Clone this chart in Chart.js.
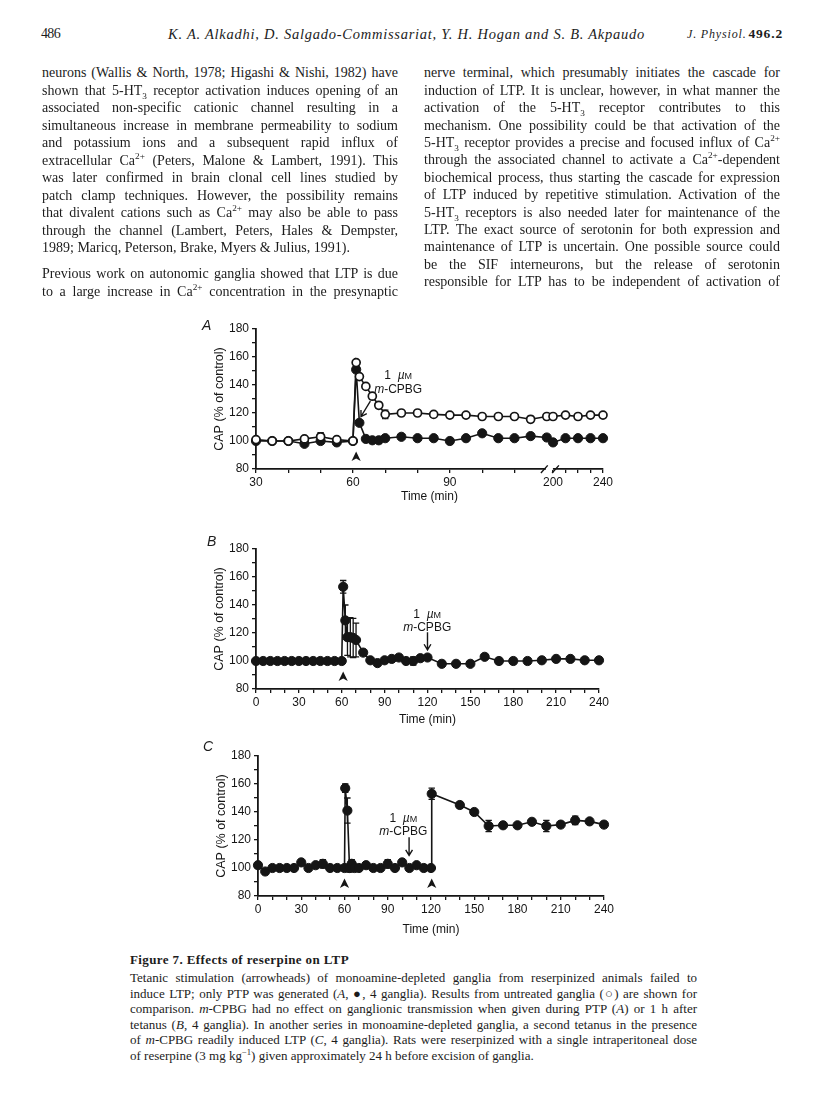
<!DOCTYPE html>
<html>
<head>
<meta charset="utf-8">
<title>Figure 7 - Effects of reserpine on LTP</title>
<script src="https://cdn.jsdelivr.net/npm/chart.js@4.4.1/dist/chart.umd.min.js"></script>
<style>
  html, body { margin: 0; padding: 0; background: #fff; }
  #page { position: relative; width: 816px; height: 1110px; overflow: hidden; color: #1c1c1c;
          font-family: "Liberation Serif", "Times New Roman", serif; }
  .ln { position: absolute; font-size: 14px; line-height: 18px; white-space: nowrap; }
  .cap { font-size: 13px; line-height: 16px; }
  sub, sup { font-size: 0.66em; line-height: 0; }
  canvas.panel { position: absolute; }
  .tag { position: absolute; font: italic 14px "Liberation Sans", Arial, sans-serif; }
</style>
</head>
<body>
<div id="page">
  <canvas id="panelA" class="panel" width="440" height="210" style="left:180px;top:300px"></canvas>
  <canvas id="panelB" class="panel" width="440" height="210" style="left:180px;top:520px"></canvas>
  <canvas id="panelC" class="panel" width="440" height="210" style="left:182px;top:727px"></canvas>
  <div class="tag" style="left:202px;top:317px">A</div>
  <div class="tag" style="left:207px;top:533px">B</div>
  <div class="tag" style="left:203px;top:738px">C</div>
</div>

<script>
// ---- Panel A: untreated (open) vs reserpinized (closed) ganglia, broken time axis ----
const timeA = [30, 35, 40, 45, 50, 55, 60, 61, 62, 64, 66, 68, 70, 75, 80, 85, 90, 95, 100, 105, 110, 115, 120, 200, 210, 220, 230, 240];
const untreatedA = [101, 100, 100, 101.5, 103, 101, 100, 156, 146, 139, 132, 125.5, 119, 120, 120, 119, 118.5, 118.5, 117.5, 117.5, 117.5, 115.5, 117.5, 117.5, 118.5, 117.5, 118.5, 118.5];
const untreatedErrA = [0, 0, 0, 0, 3, 0, 0, 0, 0, 0, 0, 2, 3, 0, 0, 2, 0, 0, 0, 0, 0, 2, 0, 0, 0, 0, 0, 0];
const reserpineA = [100, 100, 100, 98, 100, 99, 100, 151, 113, 101.5, 100.5, 100.5, 102, 103, 102, 102, 100, 102, 105.5, 102, 102, 103.5, 102.5, 99, 102, 102, 102, 102];
const reserpineErrA = [0, 0, 0, 0, 0, 0, 0, 0, 0, 0, 0, 2, 0, 0, 0, 0, 0, 0, 0, 0, 0, 0, 0, 0, 0, 0, 0, 0];
const ticksA = [30, 40, 50, 60, 70, 80, 90, 100, 110, 200, 210, 220, 230, 240];
const labelsA = [30, 60, 90, 200, 240];

// ---- Panel B: m-CPBG given 1 h after tetanus ----
const timeB = [0, 5, 10, 15, 20, 25, 30, 35, 40, 45, 50, 55, 60, 61, 62.5, 64, 66, 68, 70, 75, 80, 85, 90, 95, 100, 105, 110, 115, 120, 130, 140, 150, 160, 170, 180, 190, 200, 210, 220, 230, 240];
const capB = [100, 100, 100, 100, 100, 100, 100, 100, 100, 100, 100, 100, 100, 153, 129, 117, 117, 116.5, 115, 106, 100.5, 98.5, 100.5, 101.5, 102.5, 100, 100, 102, 102.5, 98, 98, 98, 103, 100, 100, 100, 100.5, 101.5, 101.5, 100.5, 100.5];
const errB = [0, 0, 0, 0, 0, 0, 0, 0, 0, 0, 0, 0, 0, 4.5, 11, 13, 14, 14, 12, 2, 0, 0, 0, 0, 0, 0, 3, 2, 0, 0, 0, 0, 0, 2, 2, 2, 0, 0, 0, 0, 0];

// ---- Panel C: second tetanus in presence of m-CPBG ----
const timeC = [0, 5, 10, 15, 20, 25, 30, 35, 40, 45, 50, 55, 60, 60.5, 62, 63.5, 65, 67, 70, 75, 80, 85, 90, 95, 100, 105, 110, 115, 120, 120.5, 140, 150, 160, 170, 180, 190, 200, 210, 220, 230, 240];
const capC = [102, 97.5, 100, 100, 100, 100, 104, 100, 102, 103, 100, 100, 100, 157, 141, 100, 103, 100, 100, 102, 100, 100, 103, 100, 104, 100, 102, 100, 100, 153, 145, 140, 130, 130.5, 130.5, 133, 130, 131, 134, 133.3, 131];
const errC = [0, 2, 0, 0, 0, 0, 0, 0, 0, 3, 0, 0, 0, 3, 9, 3, 3, 0, 0, 0, 0, 0, 3, 0, 0, 0, 0, 0, 0, 4, 2, 0, 4, 0, 0, 0, 4, 0, 3, 0, 0];

const INK = '#151515';
const SANS = '"Liberation Sans", Arial, Helvetica, sans-serif';

/**
 * Linear scale with a gap: [min..gap[0]] takes leftShare of the axis,
 * the gap itself gapShare, and [gap[1]..max] the rest.
 */
class BrokenLinearScale extends Chart.LinearScale {
    buildTicks() {
        return this.options.tickValues.map(value => ({ value }));
    }
    getPixelForValue(value) {
        const [lo, hi] = this.options.gap;
        const a = this.options.leftShare, g = this.options.gapShare;
        let d;
        if (value <= lo) d = (value - this.min) / (lo - this.min) * a;
        else if (value >= hi) d = a + g + (value - hi) / (this.max - hi) * (1 - a - g);
        else d = a + g / 2;
        return this.getPixelForDecimal(d);
    }
    getValueForPixel(pixel) {
        const [lo, hi] = this.options.gap;
        const a = this.options.leftShare, g = this.options.gapShare;
        const d = this.getDecimalForPixel(pixel);
        if (d <= a) return this.min + d / a * (lo - this.min);
        return hi + (d - a - g) / (1 - a - g) * (this.max - hi);
    }
}
BrokenLinearScale.id = 'brokenLinear';
Chart.register(BrokenLinearScale);

const toPoints = (xs, ys) => xs.map((x, i) => ({ x, y: ys[i] }));

const closedStyle = {
    borderColor: INK, backgroundColor: INK, borderWidth: 1.6,
    pointBackgroundColor: INK, pointBorderColor: INK, pointRadius: 4.6, pointBorderWidth: 1,
    tension: 0, clip: false
};
const openStyle = {
    borderColor: INK, backgroundColor: '#fff', borderWidth: 1.6,
    pointBackgroundColor: '#fff', pointBorderColor: INK, pointRadius: 4, pointBorderWidth: 1.7,
    tension: 0, clip: false
};

const tickFont = { family: SANS, size: 12 };

function axisLook() {
    return {
        grid: { drawOnChartArea: false, drawTicks: true, tickLength: 4, color: INK, lineWidth: 1.3 },
        border: { display: true, color: INK, width: 1.8 }
    };
}

function yAxis() {
    return Object.assign(axisLook(), {
        min: 80, max: 180,
        afterFit: s => { s.width = 76; },
        ticks: { stepSize: 10, autoSkip: false, padding: 3, color: INK, font: tickFont,
                 callback: v => (v % 20 === 0 ? v : '') },
        title: { display: true, text: 'CAP (% of control)', color: INK,
                 font: { family: SANS, size: 12.5 }, padding: { top: 32 } }
    });
}

function xAxis(extra, titlePad) {
    return Object.assign(axisLook(), {
        afterFit: s => { s.height = 41; },
        title: { display: true, text: 'Time (min)', color: INK,
                 font: { family: SANS, size: 12 }, padding: { bottom: titlePad } }
    }, extra, {
        ticks: Object.assign({ autoSkip: false, maxRotation: 0, padding: 2, color: INK, font: tickFont },
                             extra.ticks)
    });
}

// draws "1 µM" / "m-CPBG" label, arrows, tetanus arrowheads, error bars and axis break
function panelMarks(notes) {
    const text = (ctx, parts, cx, baseY) => {
        let w = 0;
        parts.forEach(p => { ctx.font = p[1]; w += ctx.measureText(p[0]).width; });
        let x = cx - w / 2;
        parts.forEach(p => { ctx.font = p[1]; ctx.fillText(p[0], x, baseY); x += ctx.measureText(p[0]).width; });
    };
    return {
        id: 'panelMarks',
        beforeDatasetsDraw(chart) {
            const ctx = chart.ctx, ys = chart.scales.y;
            ctx.save();
            ctx.strokeStyle = INK;
            ctx.lineWidth = 1.3;
            chart.data.datasets.forEach((ds, di) => {
                const meta = chart.getDatasetMeta(di);
                (ds.errorBars || []).forEach((e, i) => {
                    if (!e) return;
                    const px = meta.data[i].x, v = ds.data[i].y;
                    const top = ys.getPixelForValue(v + e), bot = ys.getPixelForValue(v - e);
                    ctx.beginPath();
                    ctx.moveTo(px, top); ctx.lineTo(px, bot);
                    ctx.moveTo(px - 3.2, top); ctx.lineTo(px + 3.2, top);
                    ctx.moveTo(px - 3.2, bot); ctx.lineTo(px + 3.2, bot);
                    ctx.stroke();
                });
            });
            ctx.restore();
        },
        afterDraw(chart) {
            const ctx = chart.ctx, xs = chart.scales.x, ys = chart.scales.y;
            const X = v => xs.getPixelForValue(v), Y = v => ys.getPixelForValue(v);
            ctx.save();
            ctx.fillStyle = INK;
            ctx.strokeStyle = INK;
            ctx.textBaseline = 'alphabetic';

            // drug label
            const lx = X(notes.dose[0]), ly = Y(notes.dose[1]);
            text(ctx, [['1  ', '12px ' + SANS], ['\u00B5', 'italic 12px ' + SANS], ['M', '9px ' + SANS]], lx, ly - 2.5);
            text(ctx, [['m', 'italic 12px ' + SANS], ['-CPBG', '12px ' + SANS]], lx, ly + 11);

            // arrow towards the application time
            const [ax1, ay1, ax2, ay2] = notes.arrow;
            const x1 = X(ax1), y1 = Y(ay1), x2 = X(ax2), y2 = Y(ay2);
            const ang = Math.atan2(y2 - y1, x2 - x1);
            ctx.lineWidth = 1.4;
            ctx.beginPath();
            ctx.moveTo(x1, y1); ctx.lineTo(x2, y2);
            ctx.moveTo(x2 - 6.5 * Math.cos(ang - 0.55), y2 - 6.5 * Math.sin(ang - 0.55));
            ctx.lineTo(x2, y2);
            ctx.lineTo(x2 - 6.5 * Math.cos(ang + 0.55), y2 - 6.5 * Math.sin(ang + 0.55));
            ctx.stroke();

            // tetanus arrowheads
            notes.tetanus.forEach(t => {
                const cx = X(t), cy = Y(89);
                ctx.beginPath();
                ctx.moveTo(cx, cy - 5);
                ctx.lineTo(cx + 4.6, cy + 4.5);
                ctx.lineTo(cx, cy + 2);
                ctx.lineTo(cx - 4.6, cy + 4.5);
                ctx.closePath();
                ctx.fill();
            });

            // axis break marks
            if (notes.axisBreak) {
                const bx = (X(notes.axisBreak[0]) + X(notes.axisBreak[1])) / 2;
                const by = chart.chartArea.bottom;
                ctx.fillStyle = '#fff';
                ctx.fillRect(bx - 4, by - 1.8, 7, 2.9);
                ctx.lineWidth = 1.4;
                ctx.beginPath();
                [-5.6, 5.6].forEach(o => {
                    ctx.moveTo(bx + o - 3.4, by + 4);
                    ctx.lineTo(bx + o + 3.4, by - 3.6);
                });
                ctx.stroke();
            }
            ctx.restore();
        }
    };
}

function renderPanel(id, datasets, xScale, pad, notes) {
    new Chart(document.getElementById(id), {
        type: 'line',
        data: { datasets },
        options: {
            responsive: false,
            animation: false,
            devicePixelRatio: 1,
            events: [],
            layout: { padding: { left: 0, top: pad.top, right: pad.right, bottom: 0 } },
            plugins: { legend: { display: false }, tooltip: { enabled: false } },
            scales: { x: xScale, y: yAxis() }
        },
        plugins: [panelMarks(notes)]
    });
}

// Panel A
renderPanel('panelA', [
    Object.assign({ data: toPoints(timeA, untreatedA), errorBars: untreatedErrA }, openStyle),
    Object.assign({ data: toPoints(timeA, reserpineA), errorBars: reserpineErrA }, closedStyle)
], xAxis({
    type: 'brokenLinear', min: 30, max: 240,
    gap: [120, 200], leftShare: 0.838, gapShare: 0.018, tickValues: ticksA,
    ticks: { callback: v => (labelsA.includes(v) ? v : '') }
}, 6), { top: 29, right: 17 }, {
    dose: [74, 142.4], arrow: [65.4, 128.5, 62.5, 117.5], tetanus: [61], axisBreak: [120, 200]
});

// Panel B
renderPanel('panelB', [
    Object.assign({ data: toPoints(timeB, capB), errorBars: errB }, closedStyle)
], xAxis({
    type: 'linear', min: 0, max: 240,
    ticks: { stepSize: 10, callback: v => (v % 30 === 0 ? v : '') }
}, 3.5), { top: 29, right: 21 }, {
    dose: [119.8, 129.2], arrow: [120, 120.5, 120, 108], tetanus: [61]
});

// Panel C
renderPanel('panelC', [
    Object.assign({ data: toPoints(timeC, capC), errorBars: errC }, closedStyle)
], xAxis({
    type: 'linear', min: 0, max: 240,
    ticks: { stepSize: 10, callback: v => (v % 30 === 0 ? v : '') }
}, 0.5), { top: 29, right: 18 }, {
    dose: [100.8, 131.3], arrow: [104.8, 122, 104.8, 109], tetanus: [60, 120.5]
});

// ---- page text ----
const bodyLeftA = [
    'neurons (Wallis &amp; North, 1978; Higashi &amp; Nishi, 1982) have',
    'shown that 5-HT<sub>3</sub> receptor activation induces opening of an',
    'associated non-specific cationic channel resulting in a',
    'simultaneous increase in membrane permeability to sodium',
    'and potassium ions and a subsequent rapid influx of',
    'extracellular Ca<sup>2+</sup> (Peters, Malone &amp; Lambert, 1991). This',
    'was later confirmed in brain clonal cell lines studied by',
    'patch clamp techniques. However, the possibility remains',
    'that divalent cations such as Ca<sup>2+</sup> may also be able to pass',
    'through the channel (Lambert, Peters, Hales &amp; Dempster,',
    '1989; Maricq, Peterson, Brake, Myers &amp; Julius, 1991).'
];
const bodyLeftB = [
    'Previous work on autonomic ganglia showed that LTP is due',
    'to a large increase in Ca<sup>2+</sup> concentration in the presynaptic'
];
const bodyRight = [
    'nerve terminal, which presumably initiates the cascade for',
    'induction of LTP. It is unclear, however, in what manner the',
    'activation of the 5-HT<sub>3</sub> receptor contributes to this',
    'mechanism. One possibility could be that activation of the',
    '5-HT<sub>3</sub> receptor provides a precise and focused influx of Ca<sup>2+</sup>',
    'through the associated channel to activate a Ca<sup>2+</sup>-dependent',
    'biochemical process, thus starting the cascade for expression',
    'of LTP induced by repetitive stimulation. Activation of the',
    '5-HT<sub>3</sub> receptors is also needed later for maintenance of the',
    'LTP. The exact source of serotonin for both expression and',
    'maintenance of LTP is uncertain. One possible source could',
    'be the SIF interneurons, but the release of serotonin',
    'responsible for LTP has to be independent of activation of'
];
const captionLines = [
    'Tetanic stimulation (arrowheads) of monoamine-depleted ganglia from reserpinized animals failed to',
    'induce LTP; only PTP was generated (<i>A</i>, \u25CF, 4 ganglia). Results from untreated ganglia (\u25CB) are shown for',
    'comparison. <i>m</i>-CPBG had no effect on ganglionic transmission when given during PTP (<i>A</i>) or 1 h after',
    'tetanus (<i>B</i>, 4 ganglia). In another series in monoamine-depleted ganglia, a second tetanus in the presence',
    'of <i>m</i>-CPBG readily induced LTP (<i>C</i>, 4 ganglia). Rats were reserpinized with a single intraperitoneal dose',
    'of reserpine (3 mg kg<sup>\u22121</sup>) given approximately 24 h before excision of ganglia.'
];

const page = document.getElementById('page');

function addLine(html, left, centerY, width, opts) {
    const el = document.createElement('div');
    el.className = 'ln' + (opts.cls ? ' ' + opts.cls : '');
    el.innerHTML = html;
    el.style.left = left + 'px';
    el.style.top = (centerY - 9) + 'px';
    if (opts.style) Object.assign(el.style, opts.style);
    page.appendChild(el);
    const natural = el.getBoundingClientRect().width;
    const n = el.textContent.length;
    if (opts.spread) {
        el.style.letterSpacing = ((width - natural) / n) + 'px';
    } else if (natural > width - 1) {
        el.style.letterSpacing = ((width - 1 - natural) / n) + 'px';
    }
    if (opts.justify) {
        el.style.whiteSpace = 'normal';
        el.style.width = width + 'px';
        el.style.textAlign = 'justify';
        el.style.textAlignLast = 'justify';
    }
    return el;
}

function addBlock(lines, left, firstCenter, step, width, cls, lastJustified) {
    lines.forEach((l, i) => {
        const justify = i < lines.length - 1 || lastJustified;
        addLine(l, left, firstCenter + i * step, width, { cls, justify });
    });
}

// running head
addLine('486', 41, 34, 20, { style: { fontSize: '14px' } });
addLine('K. A. Alkadhi, D. Salgado-Commissariat, Y. H. Hogan and S. B. Akpaudo', 168, 34, 477,
        { spread: true, style: { fontStyle: 'italic', fontSize: '14.5px' } });
addLine('<i style="font-size:12px">J. Physiol.</i>&#8202;<b>496.2</b>', 687, 34, 96,
        { spread: true, style: { fontSize: '13.5px' } });

addBlock(bodyLeftA, 42, 73.3, 17.5, 356, '', false);
addBlock(bodyLeftB, 42, 274, 17.5, 356, '', true);
addBlock(bodyRight, 424, 73.3, 17.4, 356, '', true);

addLine('Figure 7. Effects of reserpine on LTP', 130, 960, 219, { spread: true, style: { fontWeight: 'bold', fontSize: '13px' } });
addBlock(captionLines, 130, 979.3, 15.5, 567, 'cap', false);
</script>
</body>
</html>
